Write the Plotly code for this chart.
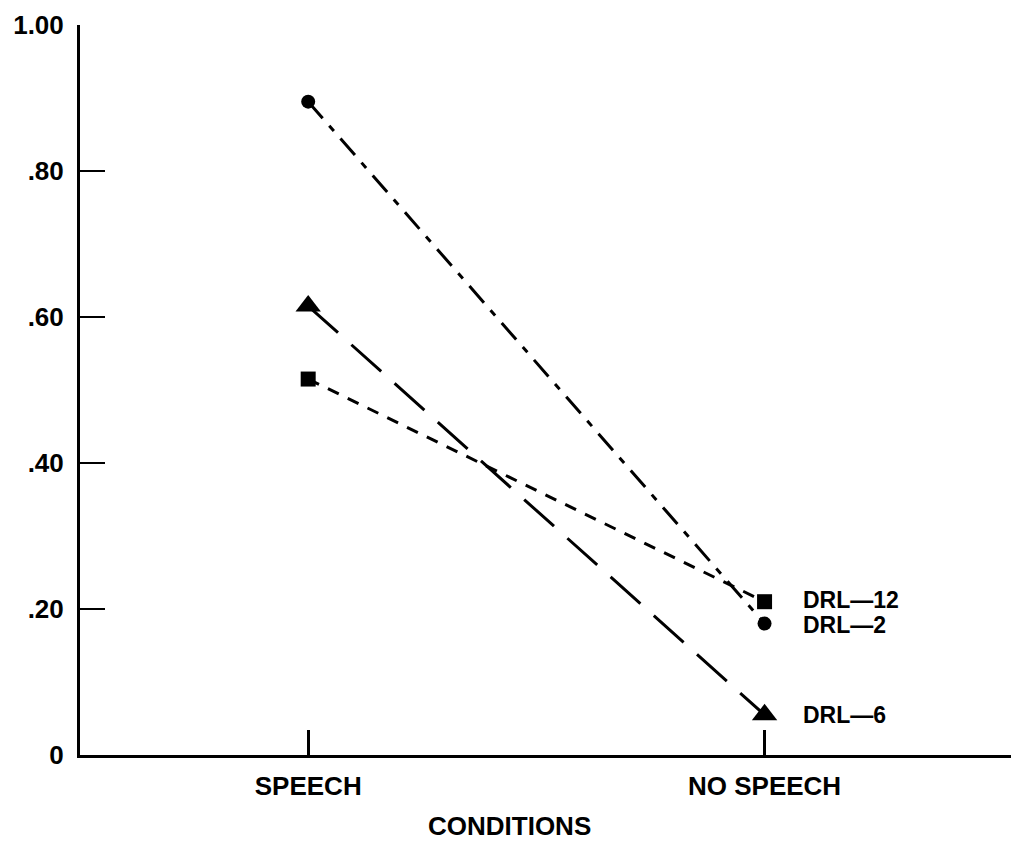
import plotly.graph_objects as go

# Conditions on the x axis (numeric positions 1 and 2)
conditions = ["SPEECH", "NO SPEECH"]
cond_pos = [1, 2]

# Proportions per schedule
drl2 = [0.895, 0.18]
drl6 = [0.615, 0.055]
drl12 = [0.515, 0.21]

series_names = ["DRL—12", "DRL—2", "DRL—6"]
y_ticks = [0, 0.2, 0.4, 0.6, 0.8, 1.0]
y_tick_text = ["0", ".20", ".40", ".60", ".80", "1.00"]

FONT = "Liberation Sans, Arial, sans-serif"

fig = go.Figure()

fig.add_trace(go.Scatter(
    x=cond_pos, y=drl2, mode="lines+markers",
    line=dict(color="black", width=3, dash="22px,10px,7px,10px"),
    marker=dict(symbol="circle", size=14, color="black"),
    showlegend=False,
))
fig.add_trace(go.Scatter(
    x=cond_pos, y=drl6, mode="lines+markers",
    line=dict(color="black", width=3, dash="40px,18px"),
    marker=dict(symbol="triangle-up", size=22, color="black"),
    showlegend=False,
))
fig.add_trace(go.Scatter(
    x=cond_pos, y=drl12, mode="lines+markers",
    line=dict(color="black", width=3, dash="12px,10px"),
    marker=dict(symbol="square", size=15, color="black"),
    showlegend=False,
))

annotations = []
label_shift = [2, -1, 0]
for name, vals, dy in zip(series_names, [drl12, drl2, drl6], label_shift):
    annotations.append(dict(
        x=cond_pos[1], y=vals[1], xref="x", yref="y",
        text=name, showarrow=False, xanchor="left", yanchor="middle",
        xshift=36, yshift=dy,
        font=dict(family=FONT, size=23, color="black", weight="bold"),
    ))
annotations.append(dict(
    x=1.442, y=-0.097, xref="x", yref="paper",
    text="CONDITIONS", showarrow=False, xanchor="center", yanchor="middle",
    font=dict(family=FONT, size=26, color="black", weight="bold"),
))

fig.update_layout(
    width=1011, height=842,
    margin=dict(l=80, r=0, t=25, b=87),
    paper_bgcolor="white", plot_bgcolor="white",
    annotations=annotations,
    font=dict(family=FONT, color="black"),
)
fig.update_xaxes(
    range=[0.5, 2.54], tickvals=cond_pos, ticktext=conditions,
    showline=True, linecolor="black", linewidth=3,
    ticks="inside", ticklen=25, tickwidth=3, tickcolor="black",
    showgrid=False, zeroline=False, automargin=False,
    tickfont=dict(family=FONT, size=26, color="black", weight="bold"),
    ticklabelstandoff=6,
)
fig.update_yaxes(
    range=[0, 1.0], tickvals=y_ticks, ticktext=y_tick_text,
    showline=True, linecolor="black", linewidth=3,
    ticks="inside", ticklen=25, tickwidth=2, tickcolor="black",
    showgrid=False, zeroline=False, automargin=False,
    tickfont=dict(family=FONT, size=26, color="black", weight="bold"),
    ticklabelstandoff=8,
)

fig.write_html("out.html")
